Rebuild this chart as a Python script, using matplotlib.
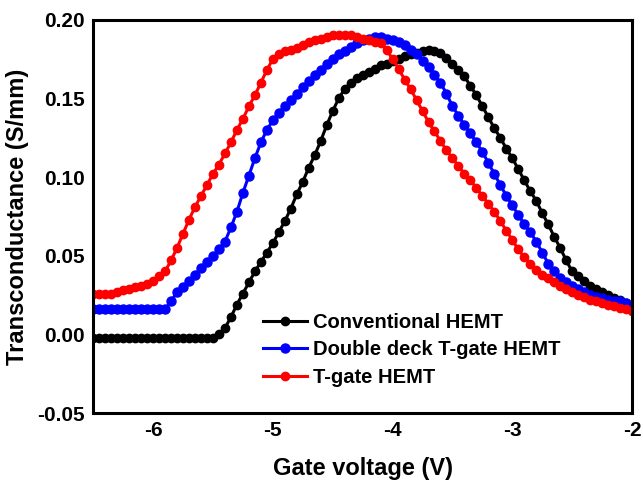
import numpy as np
import matplotlib
matplotlib.use('Agg')
import matplotlib.pyplot as plt

plt.rcParams['font.family'] = ['Liberation Sans', 'DejaVu Sans']
plt.rcParams['font.weight'] = 'bold'

# gate voltage sweep (V), 0.05 V step
vg = np.round(np.linspace(-6.5, -2.0, 91), 2)

# transconductance (S/mm)
gm_conv = [-0.002] * 21 + [
    0.000, 0.004, 0.011, 0.019, 0.026, 0.033, 0.040, 0.046, 0.052, 0.058,
    0.065, 0.072, 0.080, 0.089, 0.097, 0.106, 0.114, 0.123, 0.133, 0.142,
    0.150, 0.156, 0.160, 0.163, 0.165, 0.167, 0.169, 0.171, 0.172, 0.174,
    0.175, 0.177, 0.178, 0.179, 0.180, 0.181, 0.180, 0.179, 0.176, 0.172,
    0.168, 0.164, 0.158, 0.152, 0.145, 0.138, 0.131, 0.125, 0.118, 0.112,
    0.105, 0.098, 0.091, 0.085, 0.077, 0.070, 0.062, 0.055, 0.047, 0.040,
    0.037, 0.034, 0.031, 0.029, 0.027, 0.025, 0.023, 0.022, 0.020, 0.019]
gm_dd = [0.016] * 13 + [
    0.021, 0.027, 0.030, 0.034, 0.038, 0.042, 0.046, 0.050, 0.054, 0.059,
    0.068, 0.078, 0.090, 0.101, 0.112, 0.122, 0.130, 0.136, 0.141, 0.145,
    0.149, 0.153, 0.157, 0.161, 0.165, 0.168, 0.172, 0.175, 0.178, 0.180,
    0.183, 0.185, 0.187, 0.188, 0.189, 0.189, 0.188, 0.187, 0.186, 0.184,
    0.181, 0.178, 0.174, 0.170, 0.165, 0.160, 0.153, 0.145, 0.139, 0.133,
    0.128, 0.122, 0.116, 0.109, 0.102, 0.095, 0.088, 0.082, 0.076, 0.070,
    0.065, 0.059, 0.052, 0.045, 0.040, 0.036, 0.033, 0.031, 0.029, 0.027,
    0.025, 0.024, 0.023, 0.022, 0.021, 0.021, 0.020, 0.019]
gm_tg = [
    0.026, 0.026, 0.026, 0.026, 0.027, 0.028, 0.029, 0.030, 0.031, 0.032,
    0.034, 0.037, 0.040, 0.047, 0.055, 0.064, 0.073, 0.081, 0.088, 0.095,
    0.102, 0.108, 0.115, 0.122, 0.130, 0.137, 0.145, 0.152, 0.160, 0.168,
    0.175, 0.178, 0.180, 0.181, 0.182, 0.184, 0.186, 0.187, 0.188, 0.189,
    0.190, 0.190, 0.190, 0.190, 0.189, 0.188, 0.187, 0.186, 0.185, 0.181,
    0.175, 0.169, 0.162, 0.156, 0.149, 0.142, 0.135, 0.129, 0.123, 0.117,
    0.112, 0.107, 0.102, 0.098, 0.093, 0.088, 0.083, 0.078, 0.072, 0.066,
    0.060, 0.054, 0.049, 0.045, 0.041, 0.038, 0.036, 0.033, 0.031, 0.029,
    0.027, 0.025, 0.024, 0.022, 0.021, 0.020, 0.019, 0.018, 0.017, 0.016,
    0.015]

fig = plt.figure(figsize=(6.43, 4.82), dpi=100)
ax = fig.add_axes([0.145, 0.143, 0.838, 0.816])

ax.plot(vg, gm_conv, '-o', color='black', lw=2.2, ms=6, label='Conventional HEMT')
ax.plot(vg, gm_dd, '-o', color='blue', lw=2.2, ms=6.5, label='Double deck T-gate HEMT')
ax.plot(vg, gm_tg, '-o', color='red', lw=2.2, ms=6, label='T-gate HEMT')

ax.set_xlim(-6.5, -2)
ax.set_ylim(-0.05, 0.2)
ax.set_xticks([-6, -5, -4, -3, -2])
ax.set_xticklabels(['-6', '-5', '-4', '-3', '-2'])
ax.set_yticks([-0.05, 0.0, 0.05, 0.10, 0.15, 0.20])
ax.set_yticklabels(['-0.05', '0.00', '0.05', '0.10', '0.15', '0.20'])
ax.tick_params(length=0, labelsize=15, pad=6)
for s in ax.spines.values():
    s.set_linewidth(2.2)

ax.set_xlabel('Gate voltage (V)', fontsize=17, fontweight='bold', labelpad=12)
ax.set_ylabel('Transconductance (S/mm)', fontsize=17, fontweight='bold', labelpad=6)

ax.legend(loc='upper left', bbox_to_anchor=(0.315, 0.255), frameon=False,
          fontsize=14.5, handlelength=2.2, handletextpad=0.3, borderpad=0,
          labelspacing=0.42, borderaxespad=0)

fig.savefig('out.png', dpi=100)
